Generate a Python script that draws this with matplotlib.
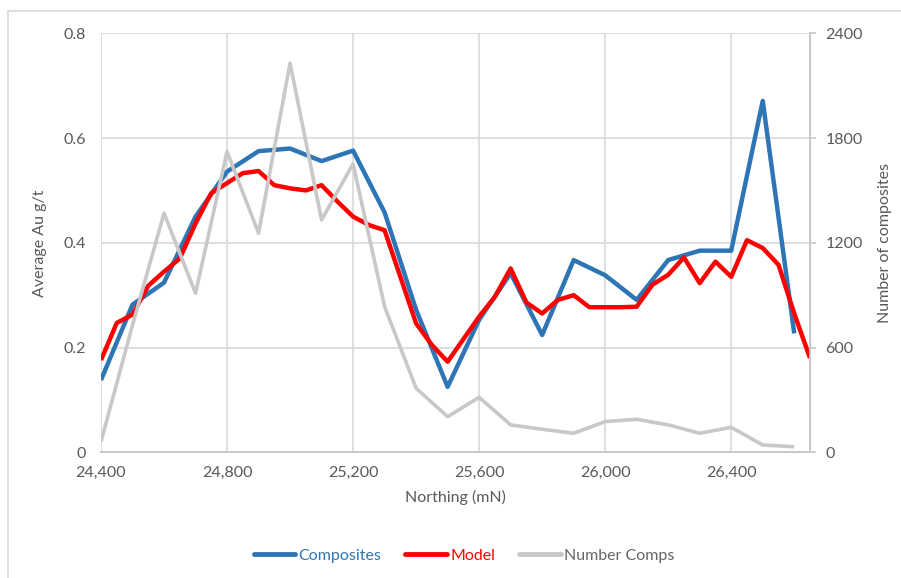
import matplotlib
matplotlib.use("Agg")
import matplotlib.pyplot as plt
from matplotlib.ticker import FuncFormatter, FixedLocator
from matplotlib.patches import Rectangle
from matplotlib.lines import Line2D

plt.rcParams['font.family'] = ['Lato', 'DejaVu Sans']

# ---- data ----
comp_north = [24400, 24500, 24600, 24700, 24800, 24900, 25000, 25100, 25200, 25300,
              25400, 25500, 25600, 25700, 25800, 25900, 26000, 26100, 26200, 26300,
              26400, 26500, 26600]
composites = [0.138, 0.282, 0.324, 0.450, 0.536, 0.575, 0.580, 0.556, 0.576, 0.458,
              0.272, 0.125, 0.253, 0.342, 0.224, 0.367, 0.338, 0.291, 0.367, 0.385,
              0.385, 0.671, 0.227]
number_comps = [61, 729, 1369, 911, 1722, 1255, 2229, 1331, 1652, 834,
                367, 204, 315, 157, 132, 109, 176, 189, 157, 109,
                143, 42, 32]

model_north = [24400, 24450, 24500, 24550, 24600, 24650, 24700, 24750, 24800, 24850,
               24900, 24950, 25000, 25050, 25100, 25150, 25200, 25250, 25300, 25350,
               25400, 25450, 25500, 25550, 25600, 25650, 25700, 25750, 25800, 25850,
               25900, 25950, 26000, 26050, 26100, 26150, 26200, 26250, 26300, 26350,
               26400, 26450, 26500, 26550, 26600, 26650]
model = [0.176, 0.247, 0.263, 0.318, 0.345, 0.370, 0.437, 0.495, 0.514, 0.533,
         0.537, 0.510, 0.504, 0.500, 0.510, 0.479, 0.450, 0.434, 0.424, 0.335,
         0.246, 0.205, 0.173, 0.216, 0.259, 0.297, 0.351, 0.286, 0.265, 0.291,
         0.300, 0.277, 0.277, 0.277, 0.278, 0.320, 0.339, 0.372, 0.323, 0.364,
         0.335, 0.405, 0.390, 0.358, 0.265, 0.180]

x_ticks = [24400, 24800, 25200, 25600, 26000, 26400]
left_ticks = [0, 0.2, 0.4, 0.6, 0.8]
right_ticks = [0, 600, 1200, 1800, 2400]

# ---- styling ----
BLUE = '#2E75B6'
RED = '#FF0000'
GREY = '#C8C8C8'
GRID = '#D9D9D9'
TXT = '#595959'
FS = 11.5

fig = plt.figure(figsize=(9.01, 5.78), dpi=100)
W, H = 901, 578
fig.patches.append(Rectangle((8 / W, -0.5), 2, 1.5 - 11 / H, transform=fig.transFigure,
                             fill=False, edgecolor=GRID, lw=1.2))

ax = fig.add_axes([101 / W, 1 - 452.3 / H, (810 - 101) / W, (452.3 - 33.3) / H])
ax2 = ax.twinx()

ax.plot(comp_north, composites, color=BLUE, lw=3.2, solid_joinstyle='round',
        solid_capstyle='butt', zorder=3)
ax.plot(model_north, model, color=RED, lw=3.2, solid_joinstyle='round',
        solid_capstyle='butt', zorder=4)
ax2.plot(comp_north, number_comps, color=GREY, lw=2.6, solid_joinstyle='round',
         solid_capstyle='butt')

ax.set_xlim(24400, 26650)
ax.set_ylim(0, 0.8)
ax2.set_ylim(0, 2400)

ax.xaxis.set_major_locator(FixedLocator(x_ticks))
ax.xaxis.set_major_formatter(FuncFormatter(lambda v, p: f"{int(v):,}"))
ax.yaxis.set_major_locator(FixedLocator(left_ticks))
ax.yaxis.set_major_formatter(FuncFormatter(lambda v, p: "0" if v == 0 else f"{v:.1f}"))
ax2.yaxis.set_major_locator(FixedLocator(right_ticks))
ax2.yaxis.set_major_formatter(FuncFormatter(lambda v, p: f"{int(v)}"))

ax.grid(True, color=GRID, lw=1.2, zorder=0)
ax.set_axisbelow(True)

for a in (ax, ax2):
    for s in ('top', 'left'):
        a.spines[s].set_visible(False)
    a.spines['bottom'].set_color(GREY)
    a.spines['right'].set_color(GREY)
    a.spines['bottom'].set_linewidth(1.2)
    a.spines['right'].set_linewidth(1.2)

ax.tick_params(axis='x', length=0, pad=10, labelsize=FS, labelcolor=TXT)
ax.tick_params(axis='y', length=0, pad=11, labelsize=FS, labelcolor=TXT)
ax2.tick_params(axis='y', length=4, width=1.2, color=GREY, pad=7, labelsize=FS, labelcolor=TXT)

ax.set_xlabel('Northing (mN)', fontsize=FS, color=TXT, labelpad=7)
ax.set_ylabel('Average Au g/t', fontsize=FS, color=TXT, labelpad=12)
ax2.set_ylabel('Number of composites', fontsize=FS, color=TXT, labelpad=11)

handles = [Line2D([], [], color=BLUE, lw=3.5, solid_capstyle='round'),
           Line2D([], [], color=RED, lw=3.5, solid_capstyle='round'),
           Line2D([], [], color=GREY, lw=3.5, solid_capstyle='round')]
labels = ['Composites', 'Model', 'Number Comps']
leg = fig.legend(handles, labels, loc='center', bbox_to_anchor=(464 / W, 1 - 556 / H),
                 ncol=3, frameon=False, fontsize=FS, handlelength=2.6,
                 handletextpad=0.2, columnspacing=1.5)
for t, c in zip(leg.get_texts(), [BLUE, RED, '#666666']):
    t.set_color(c)

fig.savefig('out.png', dpi=100)
